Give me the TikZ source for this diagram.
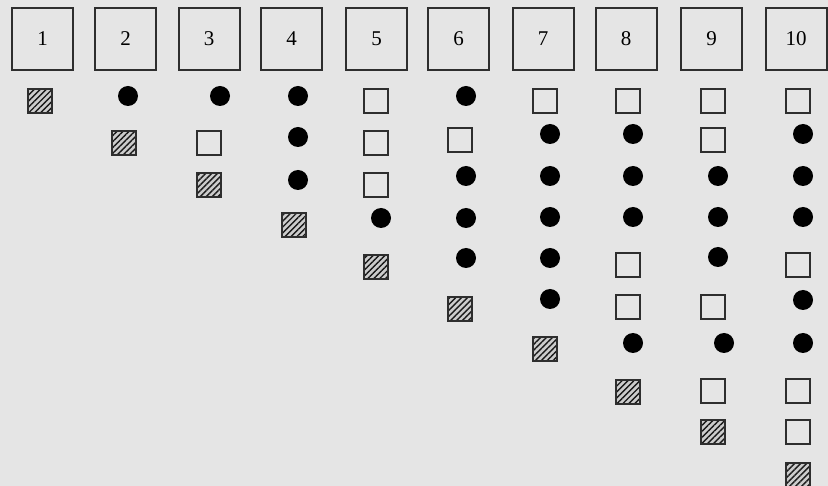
\documentclass[tikz,border=0pt]{standalone}
\usepackage{fontspec}
\setmainfont{Liberation Serif}
\usetikzlibrary{patterns.meta}
\definecolor{bgc}{gray}{0.9}
\definecolor{edge}{gray}{0.18}
\tikzset{
  numbox/.style={draw=edge, line width=2pt, minimum width=61pt, minimum height=62pt, inner sep=0pt, font=\fontsize{21}{21}\selectfont},
  opensq/.style={draw=edge, line width=1.4pt, minimum size=24pt, inner sep=0pt},
  hatchsq/.style={draw=edge, line width=1.4pt, minimum size=24pt, inner sep=0pt,
     preaction={fill=gray!40},
     pattern={Lines[angle=45,distance=4.2pt,line width=1.4pt]}, pattern color=gray!20!black},
  dot/.style={circle, fill=black, minimum size=20pt, inner sep=0pt}
}
\begin{document}
\begin{tikzpicture}[x=1pt,y=-1pt]
\fill[bgc] (0,0) rectangle (828,486);
\useasboundingbox (0,0) rectangle (828,486);
% header boxes
\node[numbox] (b1) at (42.5,39) {1};
\node[numbox] (b2) at (125.5,39) {2};
\node[numbox] (b3) at (209,39) {3};
\node[numbox] (b4) at (291.5,39) {4};
\node[numbox] (b5) at (376.5,39) {5};
\node[numbox] (b6) at (458.5,39) {6};
\node[numbox] (b7) at (543,39) {7};
\node[numbox] (b8) at (626,39) {8};
\node[numbox] (b9) at (711.5,39) {9};
\node[numbox] (b10) at (796,39) {10};
% column 1
\node[hatchsq] (m1a) at (40,101) {};
% column 2
\node[dot] (m2a) at (128,96) {};
\node[hatchsq] (m2b) at (124,143) {};
% column 3
\node[dot] (m3a) at (220,96) {};
\node[opensq] (m3b) at (209,143) {};
\node[hatchsq] (m3c) at (209,185) {};
% column 4
\node[dot] (m4a) at (298,96) {};
\node[dot] (m4b) at (298,137) {};
\node[dot] (m4c) at (298,180) {};
\node[hatchsq] (m4d) at (294,225) {};
% column 5
\node[opensq] (m5a) at (376,101) {};
\node[opensq] (m5b) at (376,143) {};
\node[opensq] (m5c) at (376,185) {};
\node[dot] (m5d) at (381,218) {};
\node[hatchsq] (m5e) at (376,267) {};
% column 6
\node[dot] (m6a) at (466,96) {};
\node[opensq] (m6b) at (460,140) {};
\node[dot] (m6c) at (466,176) {};
\node[dot] (m6d) at (466,218) {};
\node[dot] (m6e) at (466,258) {};
\node[hatchsq] (m6f) at (460,309) {};
% column 7
\node[opensq] (m7a) at (545,101) {};
\node[dot] (m7b) at (550,134) {};
\node[dot] (m7c) at (550,176) {};
\node[dot] (m7d) at (550,217) {};
\node[dot] (m7e) at (550,258) {};
\node[dot] (m7f) at (550,299) {};
\node[hatchsq] (m7g) at (545,349) {};
% column 8
\node[opensq] (m8a) at (628,101) {};
\node[dot] (m8b) at (633,134) {};
\node[dot] (m8c) at (633,176) {};
\node[dot] (m8d) at (633,217) {};
\node[opensq] (m8e) at (628,265) {};
\node[opensq] (m8f) at (628,307) {};
\node[dot] (m8g) at (633,343) {};
\node[hatchsq] (m8h) at (628,392) {};
% column 9
\node[opensq] (m9a) at (713,101) {};
\node[opensq] (m9b) at (713,140) {};
\node[dot] (m9c) at (718,176) {};
\node[dot] (m9d) at (718,217) {};
\node[dot] (m9e) at (718,257) {};
\node[opensq] (m9f) at (713,307) {};
\node[dot] (m9g) at (724,343) {};
\node[opensq] (m9h) at (713,391) {};
\node[hatchsq] (m9i) at (713,432) {};
% column 10
\node[opensq] (m10a) at (798,101) {};
\node[dot] (m10b) at (803,134) {};
\node[dot] (m10c) at (803,176) {};
\node[dot] (m10d) at (803,217) {};
\node[opensq] (m10e) at (798,265) {};
\node[dot] (m10f) at (803,300) {};
\node[dot] (m10g) at (803,343) {};
\node[opensq] (m10h) at (798,391) {};
\node[opensq] (m10i) at (798,432) {};
\node[hatchsq] (m10j) at (798,475) {};
\end{tikzpicture}
\end{document}
